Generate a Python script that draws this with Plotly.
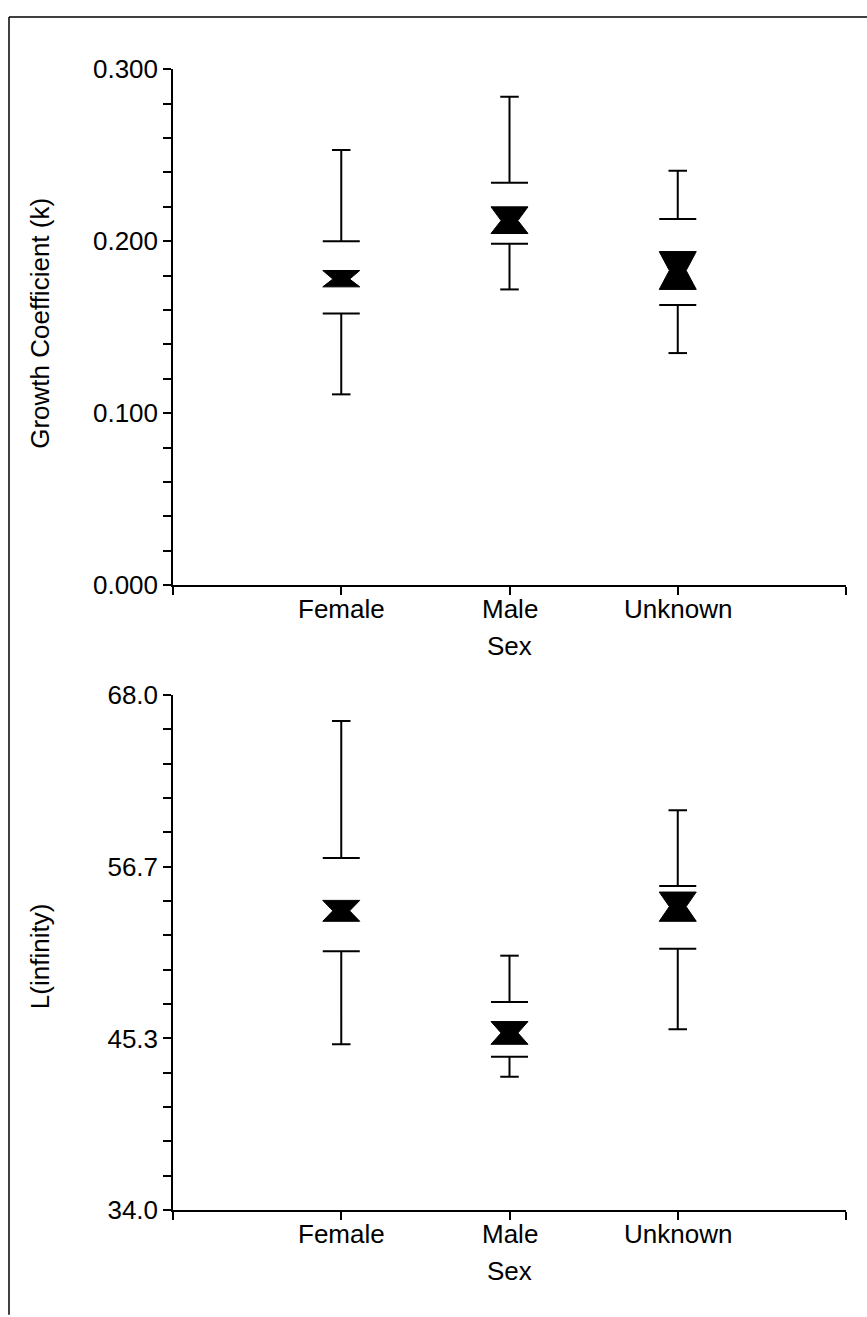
import plotly.graph_objects as go
import numpy as np

categories = ["Female", "Male", "Unknown"]
cat_pos = [1, 2, 3]

# Growth coefficient (k)
k_upper = [0.253, 0.284, 0.241]
k_q3 = [0.200, 0.234, 0.213]
k_notch_hi = [0.183, 0.220, 0.194]
k_median = [0.178, 0.212, 0.183]
k_notch_lo = [0.1735, 0.2045, 0.172]
k_q1 = [0.158, 0.1986, 0.163]
k_lower = [0.111, 0.172, 0.135]

# L(infinity)
L_upper = [66.3, 50.8, 60.4]
L_q3 = [57.25, 47.75, 55.4]
L_notch_hi = [54.45, 46.45, 55.0]
L_median = [53.76, 45.70, 54.04]
L_notch_lo = [53.07, 44.95, 53.07]
L_q1 = [51.1, 44.13, 51.25]
L_lower = [44.95, 42.8, 45.94]

k_ticks = [0.0, 0.1, 0.2, 0.3]
k_ticktext = ["0.000", "0.100", "0.200", "0.300"]
L_ticks = [34.0, 34 + 34 / 3, 34 + 68 / 3, 68.0]
L_ticktext = ["34.0", "45.3", "56.7", "68.0"]

W = 867
H = 1317
BOX_HW = 0.11
CAP_HW = 0.055
WAIST_HW = 0.05
FONT = "Liberation Sans, Arial, sans-serif"
FS = 26

fig = go.Figure()


def add_boxes(xa, ya, upper, q3, nhi, med, nlo, q1, lower):
    wx, wy = [], []
    bx, by = [], []
    for c, u, a, b, l in zip(cat_pos, upper, q3, q1, lower):
        wx += [c, c, None, c, c, None]
        wy += [u, a, None, b, l, None]
        wx += [c - CAP_HW, c + CAP_HW, None, c - CAP_HW, c + CAP_HW, None]
        wy += [u, u, None, l, l, None]
        bx += [c - BOX_HW, c + BOX_HW, None, c - BOX_HW, c + BOX_HW, None]
        by += [a, a, None, b, b, None]
    fig.add_trace(go.Scatter(x=wx, y=wy, mode="lines", xaxis=xa, yaxis=ya,
                             line=dict(color="black", width=2), hoverinfo="skip",
                             showlegend=False))
    fig.add_trace(go.Scatter(x=bx, y=by, mode="lines", xaxis=xa, yaxis=ya,
                             line=dict(color="black", width=2), hoverinfo="skip",
                             showlegend=False))
    for c, hi, m, lo in zip(cat_pos, nhi, med, nlo):
        px = [c - BOX_HW, c + BOX_HW, c + WAIST_HW, c + BOX_HW, c - BOX_HW, c - WAIST_HW, c - BOX_HW]
        py = [hi, hi, m, lo, lo, m, hi]
        fig.add_trace(go.Scatter(x=px, y=py, mode="lines", fill="toself", xaxis=xa, yaxis=ya,
                                 fillcolor="black", line=dict(color="black", width=1),
                                 hoverinfo="skip", showlegend=False))


add_boxes("x", "y", k_upper, k_q3, k_notch_hi, k_median, k_notch_lo, k_q1, k_lower)
add_boxes("x2", "y2", L_upper, L_q3, L_notch_hi, L_median, L_notch_lo, L_q1, L_lower)

X0, X1 = 173, 846
TOP0, TOP1 = 55.5, 583.6
BOT0, BOT1 = 696, 1223
xdom = [X0 / W, X1 / W]
top_dom = [1 - TOP1 / H, 1 - TOP0 / H]
bot_dom = [1 - BOT1 / H, 1 - BOT0 / H]

axis_common = dict(showgrid=False, zeroline=False, showline=True, linecolor="black",
                   linewidth=1.5, ticks="outside", ticklen=8, tickwidth=1.5,
                   tickcolor="black", tickfont=dict(family=FONT, size=FS, color="black"))

xticks = dict(tickmode="array", tickvals=[0] + cat_pos + [4], ticktext=[""] * 5)

fig.update_layout(
    width=W, height=H, margin=dict(l=0, r=0, t=0, b=0),
    paper_bgcolor="white", plot_bgcolor="white", showlegend=False,
    xaxis=dict(domain=xdom, range=[0, 4], anchor="y", **xticks, **axis_common),
    yaxis=dict(domain=top_dom, range=[0, 0.3], anchor="x", tickmode="array",
               tickvals=k_ticks, ticktext=k_ticktext,
               minor=dict(tickmode="array", tickvals=list(np.round(np.arange(0, 0.3001, 0.02), 4)),
                          ticks="outside", ticklen=8, tickwidth=1.5, tickcolor="black"),
               **axis_common),
    xaxis2=dict(domain=xdom, range=[0, 4], anchor="y2", **xticks, **axis_common),
    yaxis2=dict(domain=bot_dom, range=[34, 68], anchor="x2", tickmode="array",
                tickvals=L_ticks, ticktext=L_ticktext,
                minor=dict(tickmode="array", tickvals=list(np.linspace(34, 68, 16)),
                           ticks="outside", ticklen=8, tickwidth=1.5, tickcolor="black"),
                **axis_common),
)

ann_font = dict(family=FONT, size=FS, color="black")

# category labels under each x axis
for xa, ylab in (("x", TOP1 + 24), ("x2", BOT1 + 24)):
    for c, name in zip(cat_pos, categories):
        fig.add_annotation(text=name, xref=xa, yref="paper", x=c, y=1 - ylab / H,
                           showarrow=False, font=ann_font, xanchor="center", yanchor="middle")

fig.add_annotation(text="Growth Coefficient (k)", textangle=-90, xref="paper", yref="y",
                   x=40 / W, y=0.152, showarrow=False, font=ann_font,
                   xanchor="center", yanchor="middle")
fig.add_annotation(text="L(infinity)", textangle=-90, xref="paper", yref="y2",
                   x=40 / W, y=50.7, showarrow=False, font=ann_font,
                   xanchor="center", yanchor="middle")
fig.add_annotation(text="Sex", xref="x", yref="paper", x=2, y=1 - (TOP1 + 62) / H,
                   showarrow=False, font=ann_font, xanchor="center", yanchor="middle")
fig.add_annotation(text="Sex", xref="x2", yref="paper", x=2, y=1 - (BOT1 + 62) / H,
                   showarrow=False, font=ann_font, xanchor="center", yanchor="middle")

# outer frame (left and top edges)
frame = dict(color="black", width=1.5)
fig.add_shape(type="line", xref="paper", yref="paper", x0=9 / W, x1=9 / W, y0=-0.01, y1=1 - 2 / H, line=frame)
fig.add_shape(type="line", xref="paper", yref="paper", x0=9 / W, x1=1.0, y0=1 - 2 / H, y1=1 - 2 / H, line=frame)

fig.write_html("out.html", config={"displayModeBar": False},
               post_script="document.body.style.margin='0px';document.body.style.overflow='hidden';")
